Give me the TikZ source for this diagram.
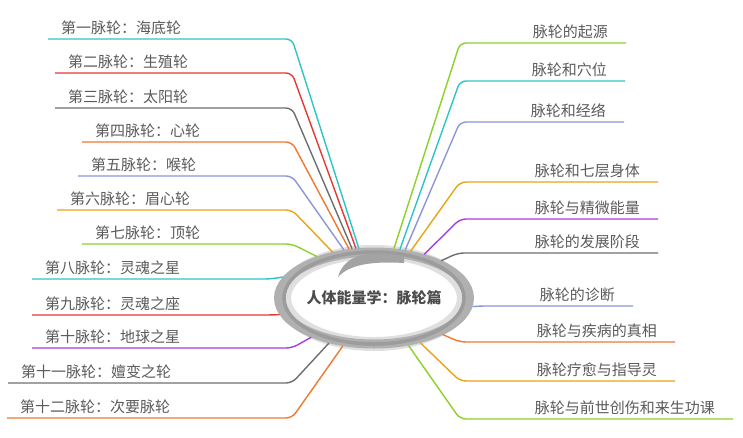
\documentclass[tikz,border=0pt]{standalone}
\usepackage{fontspec}
\usepackage{xcolor}
\usepackage{tikz}
\usetikzlibrary{positioning, shapes.geometric}
\newfontfamily\cjk{Noto Sans CJK SC}
\definecolor{cy}{HTML}{2EC4C4}
\definecolor{rd}{HTML}{E53935}
\definecolor{gy}{HTML}{6E6E6E}
\definecolor{og}{HTML}{F07830}
\definecolor{bl}{HTML}{8A96D6}
\definecolor{gd}{HTML}{E8A317}
\definecolor{gn}{HTML}{8CD02A}
\definecolor{pu}{HTML}{A63DE0}
\definecolor{txt}{HTML}{5A5A5A}

\begin{document}
\begin{tikzpicture}[x=1pt, y=-1pt,
        hub/.style={ellipse, draw=gray!62, line width=9pt, minimum width=180pt, minimum height=92pt,
          inner sep=0pt, font=\cjk\fontsize{15}{18}\selectfont\bfseries, text=txt!85!black},
        lbl/.style={font=\cjk\fontsize{15}{18}\selectfont, text=txt, inner sep=0pt},
        branch/.style={line width=1.4pt, rounded corners=6pt}
      ]
      \useasboundingbox (0,0) rectangle (743,437);
      % soft shadow of the brush ring
      \draw[gray!25, line width=14pt] (374,298) ellipse [x radius=90pt, y radius=46pt];
      \node[hub] (hub) at (374,298) {人体能量学：脉轮篇};
      \draw[gray!78, line width=3.5pt] (hub.center) ellipse [x radius=90pt, y radius=46pt];
      \fill[gray!72] (404,256) .. controls (368,249) and (344,255) .. (338,277)
        .. controls (349,265) and (370,261) .. (404,263) -- cycle;
      % left branches
      \foreach \i/\x/\y/\cx/\a/\c/\t in {
          1/48/39/292/107/cy/第一脉轮：海底轮, 2/55/73/292/110.3/rd/第二脉轮：生殖轮,
          3/55/108/292/114.5/gy/第三脉轮：太阳轮, 4/82/142/292/117.6/og/第四脉轮：心轮,
          5/78/176/292/122.8/bl/第五脉轮：喉轮, 6/57/210/292/132.2/gd/第六脉轮：眉心轮,
          7/82/244/292/144.9/gn/第七脉轮：顶轮, 8/32/279/270/167.8/cy/第八脉轮：灵魂之星,
          9/32/315/270/190.8/rd/第九脉轮：灵魂之座, 10/32/348/292/212.3/pu/第十脉轮：地球之星,
          11/8/383/292/225.7/gy/第十一脉轮：嬗变之轮, 12/7/418/292/237.8/og/第十二脉轮：次要脉轮}{
        \coordinate (ls\i) at (\x,\y);
        \coordinate (lc\i) at (\cx,\y);
        \node[lbl, anchor=base west] (lt\i) at ([shift={(13,-6)}]ls\i) {\t};
        \draw[branch, \c] (ls\i) -- (lc\i) -- (hub.\a);
      }
      % right branches
      \foreach \i/\x/\y/\cx/\a/\c/\t in {
          1/626/43/460/68.6/gn/脉轮的起源, 2/625/81/460/62.4/cy/脉轮和穴位,
          3/624/122/460/57.2/bl/脉轮和经络, 4/658/182/460/52.9/gd/脉轮和七层身体,
          5/658/219/460/41.7/pu/脉轮与精微能量, 6/658/253/458/29.1/gy/脉轮的发展阶段,
          7/633/306/480/355.1/bl/脉轮的诊断, 8/675/342/460/332.7/og/脉轮与疾病的真相,
          9/675/381/460/316.3/gd/脉轮疗愈与指导灵, 10/733/419/460/306.3/gn/脉轮与前世创伤和来生功课}{
        \coordinate (re\i) at (\x,\y);
        \coordinate (rc\i) at (\cx,\y);
        \node[lbl, anchor=base east] (rt\i) at ([shift={(-18,-6)}]re\i) {\t};
        \draw[branch, \c] (hub.\a) -- (rc\i) -- (re\i);
      }
    \end{tikzpicture}
\end{document}
